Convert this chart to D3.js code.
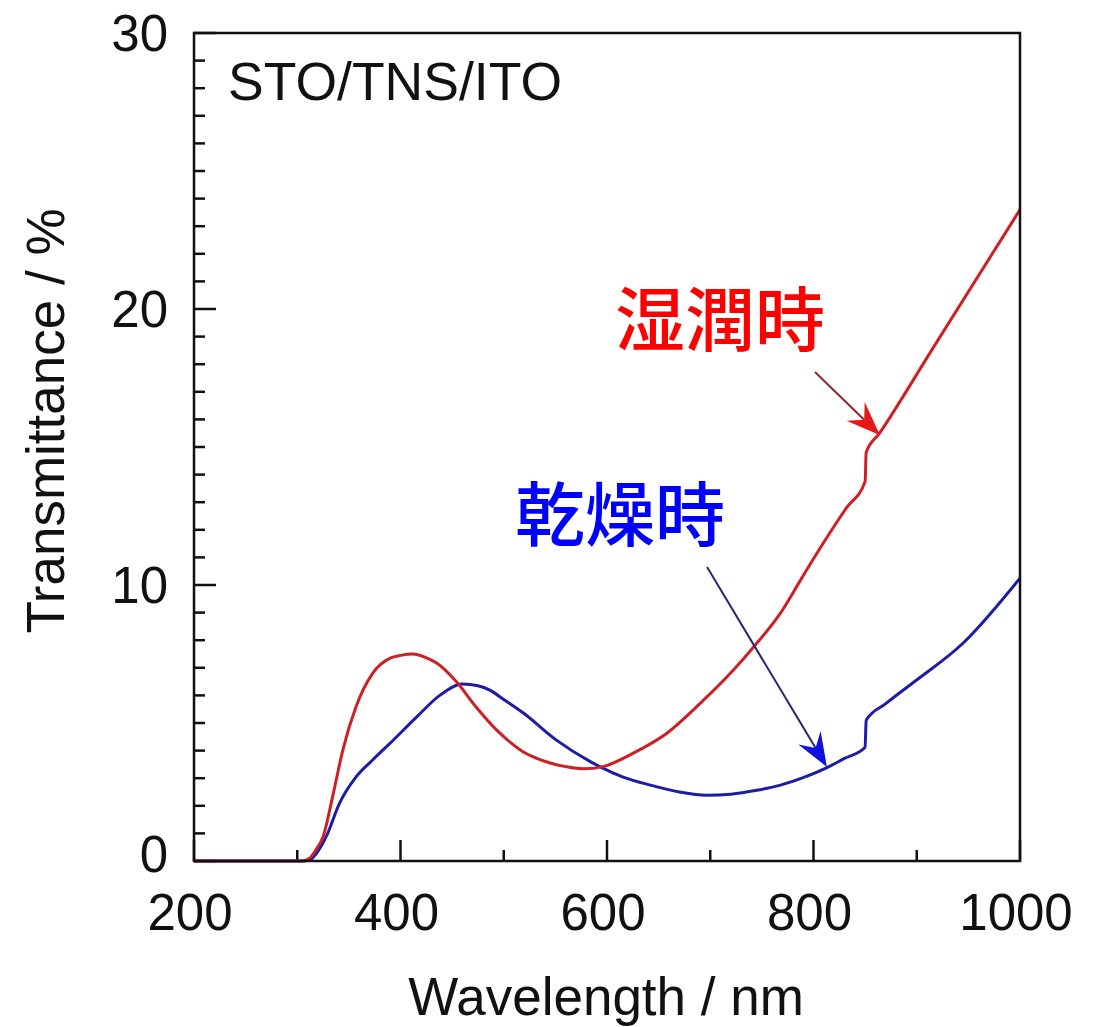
<!DOCTYPE html>
<html><head><meta charset="utf-8">
<script src="https://cdn.jsdelivr.net/npm/d3@7"></script>
<style>body{margin:0;background:#fff}</style>
</head><body>
<svg id="c" width="1095" height="1027"></svg>
<script>
// Data
const wetWL = [200,250,300,305,312,318,325,335,344,357,373,390,400,412,424,435,454,473,493,507,519,532,545,560,577,596,625,658,690,722,743,768,787,800,832,850,851,864,916,1000];
const wetT  = [0,0,0,0,0.1,0.4,0.88,2.46,4.0,5.6,6.8,7.35,7.45,7.5,7.38,7.17,6.5,5.59,4.75,4.28,3.95,3.72,3.55,3.42,3.34,3.42,3.9,4.63,5.7,6.9,7.8,8.98,10.15,10.95,12.8,13.75,14.8,15.5,18.6,23.6];
const dryWL = [200,300,305,312,320,328,341,357,373,390,416,438,460,475,487,500,519,551,583,593,615,642,670,696,720,745,768,790,814,829,850,851,870,896,945,1000];
const dryT  = [0,0,0,0.04,0.35,0.88,2.1,3.05,3.66,4.27,5.23,6.0,6.41,6.35,6.18,5.85,5.36,4.38,3.62,3.42,3.05,2.75,2.5,2.38,2.42,2.56,2.75,3.02,3.4,3.7,4.12,5.1,5.7,6.45,7.9,10.25];
const xTicks = [200,400,600,800,1000];
const xMinorTicks = [300,500,700,900];
const yTicks = [0,10,20,30];
const sampleLabel = "STO/TNS/ITO";
const wetLabel = "湿潤時";
const dryLabel = "乾燥時";
const xTitle = "Wavelength / nm";
const yTitle = "Transmittance / %";

const svg = d3.select("#c");
const L=194, R=1020, T=33, B=861;
const x = d3.scaleLinear().domain([200,1000]).range([L,R]);
const y = d3.scaleLinear().domain([0,30]).range([B,T]);
const font = "'Liberation Sans', Arial, sans-serif";

// ticks (inward)
const g = svg.append("g");
d3.range(0,31).forEach(v=>{
  const len = (v%10===0)?22:11;
  g.append("line").attr("x1",L).attr("x2",L+len).attr("y1",y(v)).attr("y2",y(v))
   .attr("stroke","#111").attr("stroke-width",2.5);
});
xTicks.forEach(v=>{
  g.append("line").attr("x1",x(v)).attr("x2",x(v)).attr("y1",B).attr("y2",B-21).attr("stroke","#111").attr("stroke-width",2.5);
});
xMinorTicks.forEach(v=>{
  g.append("line").attr("x1",x(v)).attr("x2",x(v)).attr("y1",B).attr("y2",B-11).attr("stroke","#111").attr("stroke-width",2.5);
});

// tick labels
xTicks.forEach(v=>{
  svg.append("text").attr("x",x(v)-4).attr("y",930).attr("text-anchor","middle")
    .attr("font-family",font).attr("font-size",51).attr("fill","#111").text(v);
});
yTicks.forEach(v=>{
  svg.append("text").attr("x",168).attr("y",y(v)+(v===0?11:18)).attr("text-anchor","end")
    .attr("font-family",font).attr("font-size",51).attr("fill","#111").text(v);
});

// titles
svg.append("text").attr("x",606).attr("y",1015).attr("text-anchor","middle")
  .attr("font-family",font).attr("font-size",53).attr("fill","#111").text(xTitle);
svg.append("text").attr("transform","translate(64,421) rotate(-90)").attr("text-anchor","middle")
  .attr("font-family",font).attr("font-size",53).attr("fill","#111").text(yTitle);

// curves
const line = d3.line().x(d=>x(d[0])).y(d=>y(d[1])).curve(d3.curveMonotoneX);
const wet = wetWL.map((w,i)=>[w,wetT[i]]);
const dry = dryWL.map((w,i)=>[w,dryT[i]]);
svg.append("path").attr("d",line(dry)).attr("fill","none").attr("stroke","#1c1ca6").attr("stroke-width",3);
svg.append("path").attr("d",line(wet)).attr("fill","none").attr("stroke","#cc2026").attr("stroke-width",3);

// frame
svg.append("rect").attr("x",L).attr("y",T).attr("width",R-L).attr("height",B-T)
  .attr("fill","none").attr("stroke","#111").attr("stroke-width",2.5);

// labels
svg.append("text").attr("x",x(233)).attr("y",y(27.57)).attr("font-family",font).attr("font-size",53.5)
  .attr("fill","#111").text(sampleLabel);
const cjk = "'Noto Sans CJK JP', 'Noto Sans CJK SC', sans-serif";
svg.append("text").attr("x",x(607.7)).attr("y",y(18.66)).attr("font-family",cjk).attr("font-size",70)
  .attr("font-weight",500).attr("fill","#ff0000").text(wetLabel);
svg.append("text").attr("x",x(510.9)).attr("y",y(11.59)).attr("font-family",cjk).attr("font-size",70)
  .attr("font-weight",500).attr("fill","#0000ff").text(dryLabel);

// arrows
function arrow(from, to, lineColor, headColor){
  const x1=x(from[0]), y1=y(from[1]), x2=x(to[0]), y2=y(to[1]);
  const dx=x2-x1, dy=y2-y1, len=Math.hypot(dx,dy), ux=dx/len, uy=dy/len, px=-uy, py=ux;
  const hl=34, hw=13, notch=22;
  svg.append("line").attr("x1",x1).attr("y1",y1).attr("x2",x2-ux*notch).attr("y2",y2-uy*notch)
    .attr("stroke",lineColor).attr("stroke-width",2);
  const pts=[[x2,y2],[x2-ux*hl+px*hw,y2-uy*hl+py*hw],[x2-ux*notch,y2-uy*notch],[x2-ux*hl-px*hw,y2-uy*hl-py*hw]];
  svg.append("path").attr("d","M"+pts.map(p=>p.join(",")).join("L")+"Z").attr("fill",headColor);
}
arrow([801.4,17.72],[864.4,15.43],"#8a2a2a","#e81818");
arrow([696.9,10.65],[813,3.41],"#26266e","#1010e0");
</script>
</body></html>
